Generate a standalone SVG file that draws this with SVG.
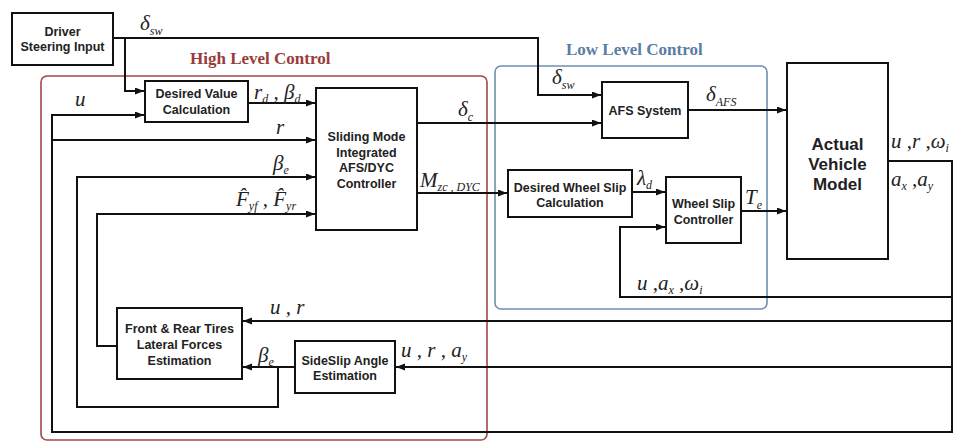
<svg xmlns="http://www.w3.org/2000/svg" width="958" height="442" viewBox="0 0 958 442">
<defs>
<marker id="arr" markerUnits="userSpaceOnUse" markerWidth="10" markerHeight="8" refX="9" refY="3.5" orient="auto">
<path d="M0,0 L9,3.5 L0,7 z" fill="#111"/>
</marker>
<style>
.box{fill:#fff;stroke:#111;stroke-width:2}
.bt{font-family:"Liberation Sans",Arial,sans-serif;font-weight:bold;font-size:12.5px;fill:#222;text-anchor:middle}
.big{font-size:17px}
.c{fill:none;stroke:#111;stroke-width:2}
.ca{fill:none;stroke:#111;stroke-width:2;marker-end:url(#arr)}
.m{font-family:"Liberation Serif","Times New Roman",serif;font-style:italic;font-size:21px;fill:#222}
.s{font-size:12px}
.hl{font-family:"Liberation Serif","Times New Roman",serif;font-weight:bold;font-size:17px}
</style>
</defs>
<rect width="958" height="442" fill="#fff"/>

<g id="high-level-region">
<rect x="41" y="76" width="446" height="364" rx="6" fill="none" stroke="#a04848" stroke-width="1.6"/>
<text x="190" y="64" class="hl" fill="#9a3b3b">High Level Control</text>
</g>
<g id="low-level-region">
<rect x="495" y="66" width="272" height="243" rx="6" fill="none" stroke="#6f8fb0" stroke-width="1.6"/>
<text x="566" y="55" class="hl" fill="#5a7da3">Low Level Control</text>
</g>

<g id="connectors">
<path class="ca" d="M113,38 H538 V95 H601"/>
<path class="ca" d="M125,38 V91 H144"/>
<path class="ca" d="M888,161 H952 V432 H52 V115 H144"/>
<path class="ca" d="M52,140 H315"/>
<path class="ca" d="M248,103 H315"/>
<path class="ca" d="M278,367 V407 H77 V177 H315"/>
<path class="ca" d="M117,346 H97 V214 H315"/>
<path class="ca" d="M417,123 H601"/>
<path class="ca" d="M417,193 H507"/>
<path class="ca" d="M688,110 H786"/>
<path class="ca" d="M632,192 H665"/>
<path class="ca" d="M741,211 H786"/>
<path class="ca" d="M952,297 H620 V227 H665"/>
<path class="ca" d="M952,321 H243"/>
<path class="ca" d="M952,367 H396"/>
<path class="ca" d="M295,367 H243"/>
</g>

<g id="driver-steering-input">
<rect class="box" x="12" y="13" width="101" height="52"/>
<text class="bt" x="62.5" y="36">Driver</text>
<text class="bt" x="62.5" y="51">Steering Input</text>
</g>
<g id="desired-value-calculation">
<rect class="box" x="145" y="81" width="103" height="41"/>
<text class="bt" x="196.5" y="98">Desired Value</text>
<text class="bt" x="196.5" y="114">Calculation</text>
</g>
<g id="sliding-mode-controller">
<rect class="box" x="316" y="88" width="101" height="142"/>
<text class="bt" x="366.5" y="141">Sliding Mode</text>
<text class="bt" x="366.5" y="157">Integrated</text>
<text class="bt" x="366.5" y="172">AFS/DYC</text>
<text class="bt" x="366.5" y="188">Controller</text>
</g>
<g id="afs-system">
<rect class="box" x="602" y="82" width="86" height="56"/>
<text class="bt" x="645" y="115">AFS System</text>
</g>
<g id="actual-vehicle-model">
<rect class="box" x="787" y="63" width="101" height="196"/>
<text class="bt big" x="837.5" y="150">Actual</text>
<text class="bt big" x="837.5" y="170">Vehicle</text>
<text class="bt big" x="837.5" y="190">Model</text>
</g>
<g id="desired-wheel-slip-calculation">
<rect class="box" x="508" y="170" width="124" height="47"/>
<text class="bt" x="570" y="192">Desired Wheel Slip</text>
<text class="bt" x="570" y="207">Calculation</text>
</g>
<g id="wheel-slip-controller">
<rect class="box" x="666" y="177" width="75" height="66"/>
<text class="bt" x="703.5" y="208">Wheel Slip</text>
<text class="bt" x="703.5" y="224">Controller</text>
</g>
<g id="tire-force-estimation">
<rect class="box" x="117" y="308" width="125" height="71"/>
<text class="bt" x="179.5" y="333">Front &amp; Rear Tires</text>
<text class="bt" x="179.5" y="349">Lateral Forces</text>
<text class="bt" x="179.5" y="365">Estimation</text>
</g>
<g id="sideslip-angle-estimation">
<rect class="box" x="295" y="341" width="100" height="52"/>
<text class="bt" x="345" y="365">SideSlip Angle</text>
<text class="bt" x="345" y="380">Estimation</text>
</g>

<g id="labels">
<text class="m" x="140" y="30">δ<tspan class="s" dy="5">sw</tspan></text>
<text class="m" x="552" y="84">δ<tspan class="s" dy="5">sw</tspan></text>
<text class="m" x="75" y="106">u</text>
<text class="m" x="254" y="99">r<tspan class="s" dy="4">d</tspan><tspan dy="-4"> , β</tspan><tspan class="s" dy="4">d</tspan></text>
<text class="m" x="276" y="134">r</text>
<text class="m" x="273" y="170">β<tspan class="s" dy="4">e</tspan></text>
<text class="m" x="236" y="206">F̂<tspan class="s" dy="4">yf</tspan><tspan dy="-4"> , F̂</tspan><tspan class="s" dy="4">yr</tspan></text>
<text class="m" x="458" y="116">δ<tspan class="s" dy="5">c</tspan></text>
<text class="m" x="420" y="187">M<tspan class="s" dy="4">zc , DYC</tspan></text>
<text class="m" x="706" y="101">δ<tspan class="s" dy="5">AFS</tspan></text>
<text class="m" x="637" y="185">λ<tspan class="s" dy="4">d</tspan></text>
<text class="m" x="745" y="204">T<tspan class="s" dy="5">e</tspan></text>
<text class="m" x="891" y="148">u ,r ,ω<tspan class="s" dy="4">i</tspan></text>
<text class="m" x="891" y="186">a<tspan class="s" dy="4">x</tspan><tspan dy="-4"> ,a</tspan><tspan class="s" dy="4">y</tspan></text>
<text class="m" x="637" y="290">u ,a<tspan class="s" dy="4">x</tspan><tspan dy="-4"> ,ω</tspan><tspan class="s" dy="4">i</tspan></text>
<text class="m" x="270" y="314">u , r</text>
<text class="m" x="258" y="362">β<tspan class="s" dy="4">e</tspan></text>
<text class="m" x="401" y="357">u , r , a<tspan class="s" dy="4">y</tspan></text>
</g>
</svg>
